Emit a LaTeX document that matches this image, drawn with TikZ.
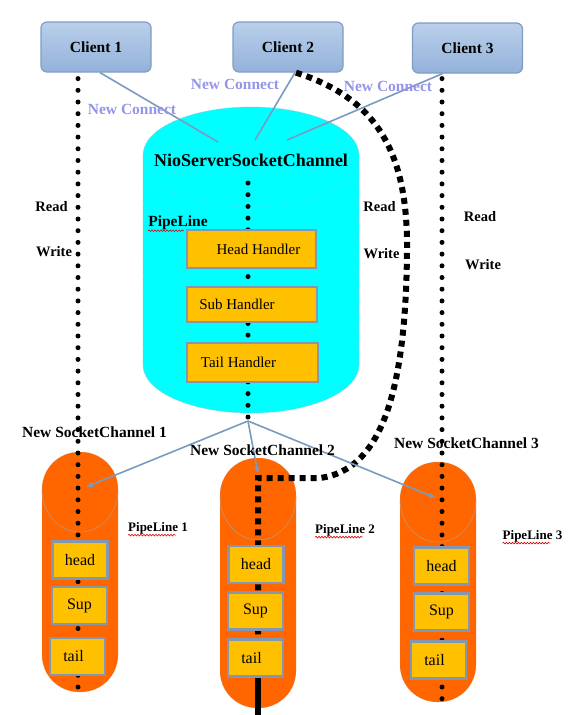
\documentclass[tikz,border=0pt]{standalone}
\usepackage{fontspec}
\setmainfont{Liberation Serif}
\usetikzlibrary{arrows.meta, decorations.pathmorphing}
\definecolor{clienttop}{HTML}{BACFEA}
\definecolor{clientbot}{HTML}{93B2DA}
\definecolor{clientline}{HTML}{7F9CC4}
\definecolor{linkblue}{HTML}{7B9AC0}
\definecolor{connectviolet}{HTML}{9494E8}
\definecolor{handlergold}{HTML}{FFC000}
\definecolor{boxline}{HTML}{8497B0}
\definecolor{pipeorange}{HTML}{FF6600}
\definecolor{servercyan}{HTML}{00FFFF}
\definecolor{cylline}{HTML}{8CC6D8}

\begin{document}
\begin{tikzpicture}[x=1pt, y=-1pt,
  client/.style={draw=clientline, line width=1.2pt, rounded corners=6pt, top color=clienttop, bottom color=clientbot, minimum width=110pt, minimum height=50pt, font=\fontsize{15.5}{18}\selectfont\bfseries},
  handler/.style={draw=boxline, line width=2.4pt, fill=handlergold, inner sep=0pt, font=\fontsize{15}{18}\selectfont},
  pipe/.style={draw=gray!60, densely dotted, fill=pipeorange, rounded corners=37pt, minimum width=76pt},
  rwdots/.style={line width=5pt, line cap=round, dash pattern=on 0pt off 11.7pt},
  bigdash/.style={line width=6pt, dash pattern=on 6pt off 5pt},
  connect/.style={draw=linkblue, line width=1.6pt},
  lbl/.style={font=\fontsize{14.5}{17}\selectfont\bfseries, inner sep=0pt},
  newconn/.style={text=connectviolet, font=\fontsize{15.5}{18}\selectfont\bfseries, inner sep=0pt},
  wavy/.style={draw=red!85!black, line width=0.6pt, decorate, decoration={snake, amplitude=0.8pt, segment length=3pt}}
]
\useasboundingbox (0,0) rectangle (571,715);
% Server
\path[fill=servercyan, draw=cylline, densely dotted, line width=0.8pt] (143,155) -- (143,365) arc[start angle=180, end angle=0, x radius=108, y radius=48] -- (359,155) arc[start angle=0, end angle=-180, x radius=108, y radius=48] -- cycle;
\draw[cylline, densely dotted] (143,158) arc[start angle=180, end angle=0, x radius=108, y radius=49];
% SocketChannel
\node[pipe, minimum height=240pt] (pl1) at (80,572) {};
\node[pipe, minimum height=250pt] (pl2) at (258,583) {};
\node[pipe, minimum height=240pt] (pl3) at (438,582) {};
\draw[gray!70] (42,490) arc[start angle=180, end angle=0, x radius=38, y radius=42];
\draw[gray!70] (220,496) arc[start angle=180, end angle=0, x radius=38, y radius=44];
\draw[gray!70] (400,500) arc[start angle=180, end angle=0, x radius=38, y radius=42];
% Client
\node[client] (c1) at (96,47) {Client 1};
\node[client] (c2) at (288,47) {Client 2};
\node[client] (c3) at (467.5,48) {Client 3};
\coordinate (nc1) at (218,142);
\coordinate (nc2) at (255,140);
\coordinate (nc3) at (287,140);
\draw[connect] ([xshift=4pt]c1.south) -- (nc1);
\draw[connect] ([xshift=7pt]c2.south) -- (nc2);
\draw[connect] ([xshift=-25pt]c3.south) -- (nc3);
% Read / Write
\coordinate (d1) at (78,687);
\coordinate (d3) at (442,700);
\coordinate (ntop) at (248,183);
\coordinate (fan) at (248,421);
\draw[rwdots] ([xshift=-18pt,yshift=-6pt]c1.south) -- (d1);
\draw[rwdots] ([xshift=-25.5pt,yshift=-5pt]c3.south) -- (d3);
\draw[rwdots] (ntop) -- (fan);
\coordinate (d2) at (258,678);
\coordinate (d2b) at (258,715);
\draw[bigdash] ([xshift=8pt]c2.south) .. controls (375,98) and (408,150) .. (407,250) .. controls (406,390) and (382,470) .. (320,478) -- (258,478) -- (d2);
\draw[line width=6pt] (d2) -- (d2b);
% Handler
\node[handler, minimum width=129pt, minimum height=38pt] (hh) at (251.5,249) {\hspace*{14pt}Head Handler};
\node[handler, minimum width=130pt, minimum height=35pt] (sh) at (252,304.5) {Sub Handler\hspace*{30pt}};
\node[handler, minimum width=131pt, minimum height=39pt] (th) at (252.5,362.5) {Tail Handler\hspace*{28pt}};
\begin{scope}[handler/.append style={minimum width=55pt, minimum height=37pt, font=\fontsize{16}{19}\selectfont}]
\node[handler] (h1) at (80,560) {head};
\node[handler] (s1) at (79.5,605.5) {Sup};
\node[handler] (t1) at (77.5,656.5) {tail\hspace*{8pt}};
\node[handler] (h2) at (256,564.5) {head};
\node[handler] (s2) at (255.5,611) {Sup};
\node[handler] (t2) at (255.5,658) {tail\hspace*{8pt}};
\node[handler] (h3) at (441.5,566) {head};
\node[handler] (s3) at (441.5,612) {Sup};
\node[handler] (t3) at (438.5,660) {tail\hspace*{8pt}};
\end{scope}
% new channels
\coordinate (in1) at (86,487);
\coordinate (in2) at (258,474);
\coordinate (in3) at (436,498);
\draw[connect, -{Latex[length=7pt,width=6pt]}] (fan) -- (in1);
\draw[connect, -{Latex[length=7pt,width=6pt]}] (fan) -- (in2);
\draw[connect, -{Latex[length=7pt,width=6pt]}] (fan) -- (in3);
%Text
\node[newconn] (ncl1) at (132,109) {New Connect};
\node[newconn] (ncl2) at (235,84) {New Connect};
\node[newconn] (ncl3) at (388,86) {New Connect};
\node[lbl, font=\fontsize{18}{21}\selectfont\bfseries] (nio) at (251,160) {NioServerSocketChannel};
\node[lbl, font=\fontsize{15.5}{18}\selectfont\bfseries] (plmain) at (178,223) {PipeLine};
\node[lbl] (r1) at (51.5,207) {Read};
\node[lbl] (w1) at (54,252) {Write};
\node[lbl] (r2) at (379.5,207) {Read};
\node[lbl] (w2) at (381.5,254) {Write};
\node[lbl] (r3) at (480,217) {Read};
\node[lbl] (w3) at (483,265) {Write};
\node[lbl, font=\fontsize{15.5}{18}\selectfont\bfseries] (nsc1) at (94.5,432) {New SocketChannel 1};
\node[lbl, font=\fontsize{15.5}{18}\selectfont\bfseries] (nsc2) at (262.5,450) {New SocketChannel 2};
\node[lbl, font=\fontsize{15.5}{18}\selectfont\bfseries] (nsc3) at (466.5,443) {New SocketChannel 3};
\node[lbl, font=\fontsize{13}{16}\selectfont\bfseries] (pl1t) at (158,528) {PipeLine 1};
\node[lbl, font=\fontsize{13}{16}\selectfont\bfseries] (pl2t) at (345,530) {PipeLine 2};
\node[lbl, font=\fontsize{13}{16}\selectfont\bfseries] (pl3t) at (532.5,536) {PipeLine 3};
\draw[wavy] ([yshift=-4pt]plmain.base west) -- ([xshift=-24pt,yshift=-4pt]plmain.base east);
\draw[wavy] ([yshift=-4pt]pl1t.base west) -- ([xshift=-12pt,yshift=-4pt]pl1t.base east);
\draw[wavy] ([yshift=-4pt]pl2t.base west) -- ([xshift=-12pt,yshift=-4pt]pl2t.base east);
\draw[wavy] ([yshift=-4pt]pl3t.base west) -- ([xshift=-12pt,yshift=-4pt]pl3t.base east);
\end{tikzpicture}
\end{document}
